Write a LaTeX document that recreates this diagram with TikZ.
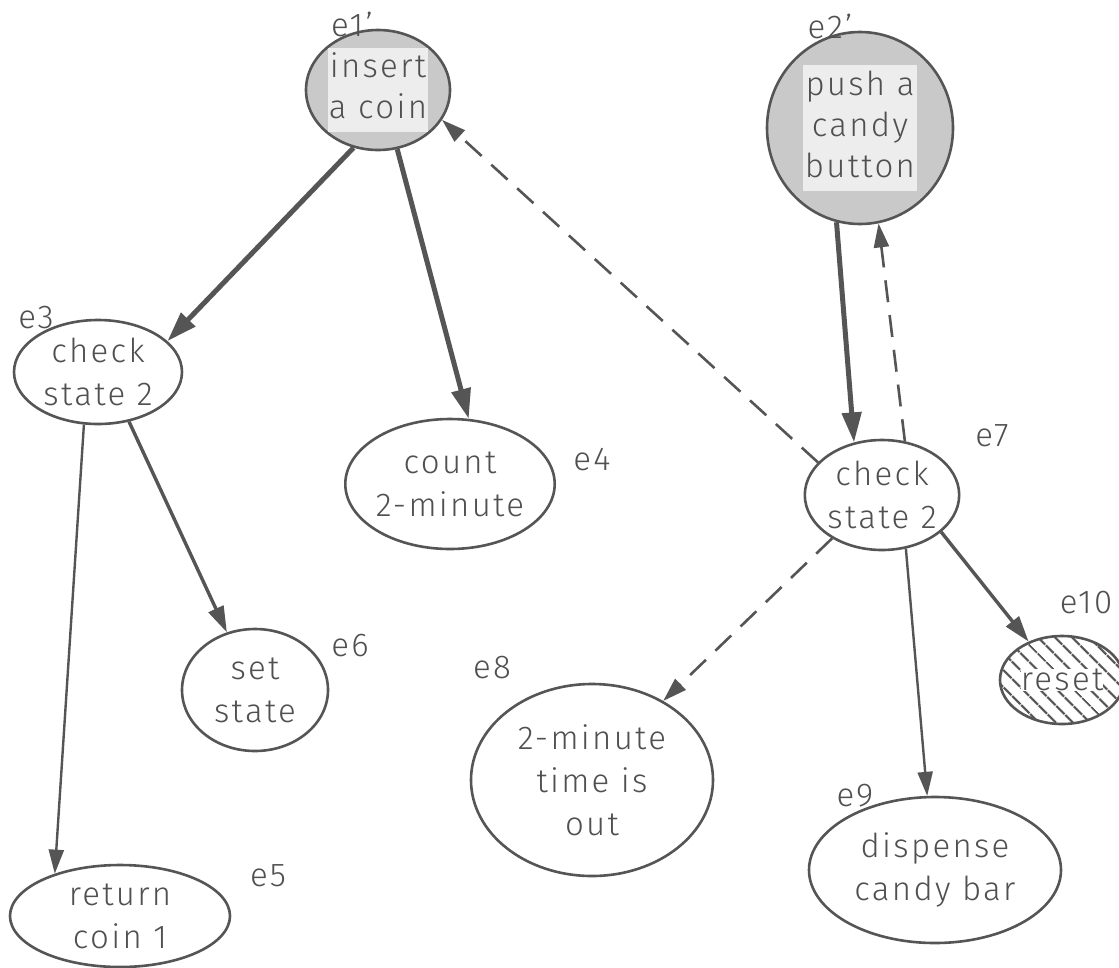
\documentclass[tikz,border=0pt]{standalone}
\usepackage{fontspec}
\setmainfont{Fira Sans}[UprightFont=* Light,LetterSpace=7]
\usetikzlibrary{shapes.geometric,arrows.meta,patterns.meta}
\definecolor{ink}{HTML}{555555}
\definecolor{txt}{HTML}{505050}
\newcommand{\lines}[1]{\begin{tabular}{@{}c@{}}#1\end{tabular}}
\begin{document}
\begin{tikzpicture}[x=1pt,y=-1pt,
  ev/.style={ellipse,draw=ink,line width=2.6pt,inner sep=0pt,align=center,
    text=txt,font=\fontsize{33}{43}\selectfont},
  tag/.style={text=txt,font=\fontsize{33}{43}\selectfont,inner sep=0pt},
  dotted fill/.style={fill=gray!42},
  heavy/.style={draw=ink,line width=5pt,-{Triangle[length=30pt,width=19pt]}},
  medium/.style={draw=ink,line width=3.4pt,-{Triangle[length=26pt,width=16pt]}},
  thin/.style={draw=ink,line width=2.4pt,-{Triangle[length=24pt,width=15pt]}},
  dashedge/.style={draw=ink,line width=2.6pt,dash pattern=on 22pt off 13pt,
    -{Triangle[length=24pt,width=15pt]}},
]
\useasboundingbox (0,0) rectangle (1119,967);
\clip (0,0) rectangle (1119,967);
\fill[white] (0,0) rectangle (1119,967);

% events
\node[ev,dotted fill,minimum width=144pt,minimum height=120pt] (e1) at (378,90)
  {\setlength\fboxsep{1pt}\colorbox{gray!14}{\renewcommand\arraystretch{0.95}\lines{insert\\a coin}}};
\node[ev,dotted fill,minimum width=186pt,minimum height=192pt] (e2) at (860,128)
  {\setlength\fboxsep{2pt}\colorbox{gray!14}{\renewcommand\arraystretch{0.95}\lines{push a\\candy\\button}}};
\node[ev,minimum width=168pt,minimum height=104pt] (e3) at (98,372) {check\\state 2};
\node[ev,minimum width=190pt,minimum height=130pt] (e4) at (450,484) {count\\2-minute};
\node[ev,minimum width=220pt,minimum height=102pt] (e5) at (120,916) {return\\coin 1};
\node[ev,minimum width=146pt,minimum height=122pt] (e6) at (255,690) {set\\state};
\node[ev,minimum width=150pt,minimum height=110pt] (e7) at (882,495) {check\\state 2};
\node[ev,minimum width=242pt,minimum height=192pt] (e8) at (592,780) {2-minute\\time is\\out};
\node[ev,minimum width=252pt,minimum height=146pt] (e9) at (935,870) {dispense\\candy bar};
\node[ev,minimum width=124pt,minimum height=88pt,
  pattern={Lines[angle=-45,distance=13pt,line width=2.4pt]},pattern color=ink] (e10) at (1062,680)
  {\setlength\fboxsep{0pt}\colorbox{white}{reset}};

% event names
\node[tag] (t1) at (352,24) {e1'};
\node[tag] (t2) at (830,26) {e2'};
\node[tag] (t3) at (36,318) {e3};
\node[tag] (t4) at (592,460) {e4};
\node[tag] (t5) at (268,876) {e5};
\node[tag] (t6) at (350,646) {e6};
\node[tag] (t7) at (992,436) {e7};
\node[tag] (t8) at (492,668) {e8};
\node[tag] (t9) at (855,796) {e9};
\node[tag] (t10) at (1086,603) {e10};

% relations
\draw[heavy] (e1.247) -- (e3.24);
\draw[heavy] (e1.288) -- (e4.74);
\draw[heavy] (e2.256) -- (e7.118);
\draw[dashedge] (e7.153) -- (e1.335);
\draw[dashedge] (e7.67) -- (e2.281);
\draw[dashedge] (e7.221) -- (e8.48);
\draw[thin] (e3.255) -- (e5.147);
\draw[medium] (e3.302) -- (e6.116);
\draw[thin] (e7.294) -- (e9.96);
\draw[medium] (e7.328) -- (e10.131);
\end{tikzpicture}
\end{document}
